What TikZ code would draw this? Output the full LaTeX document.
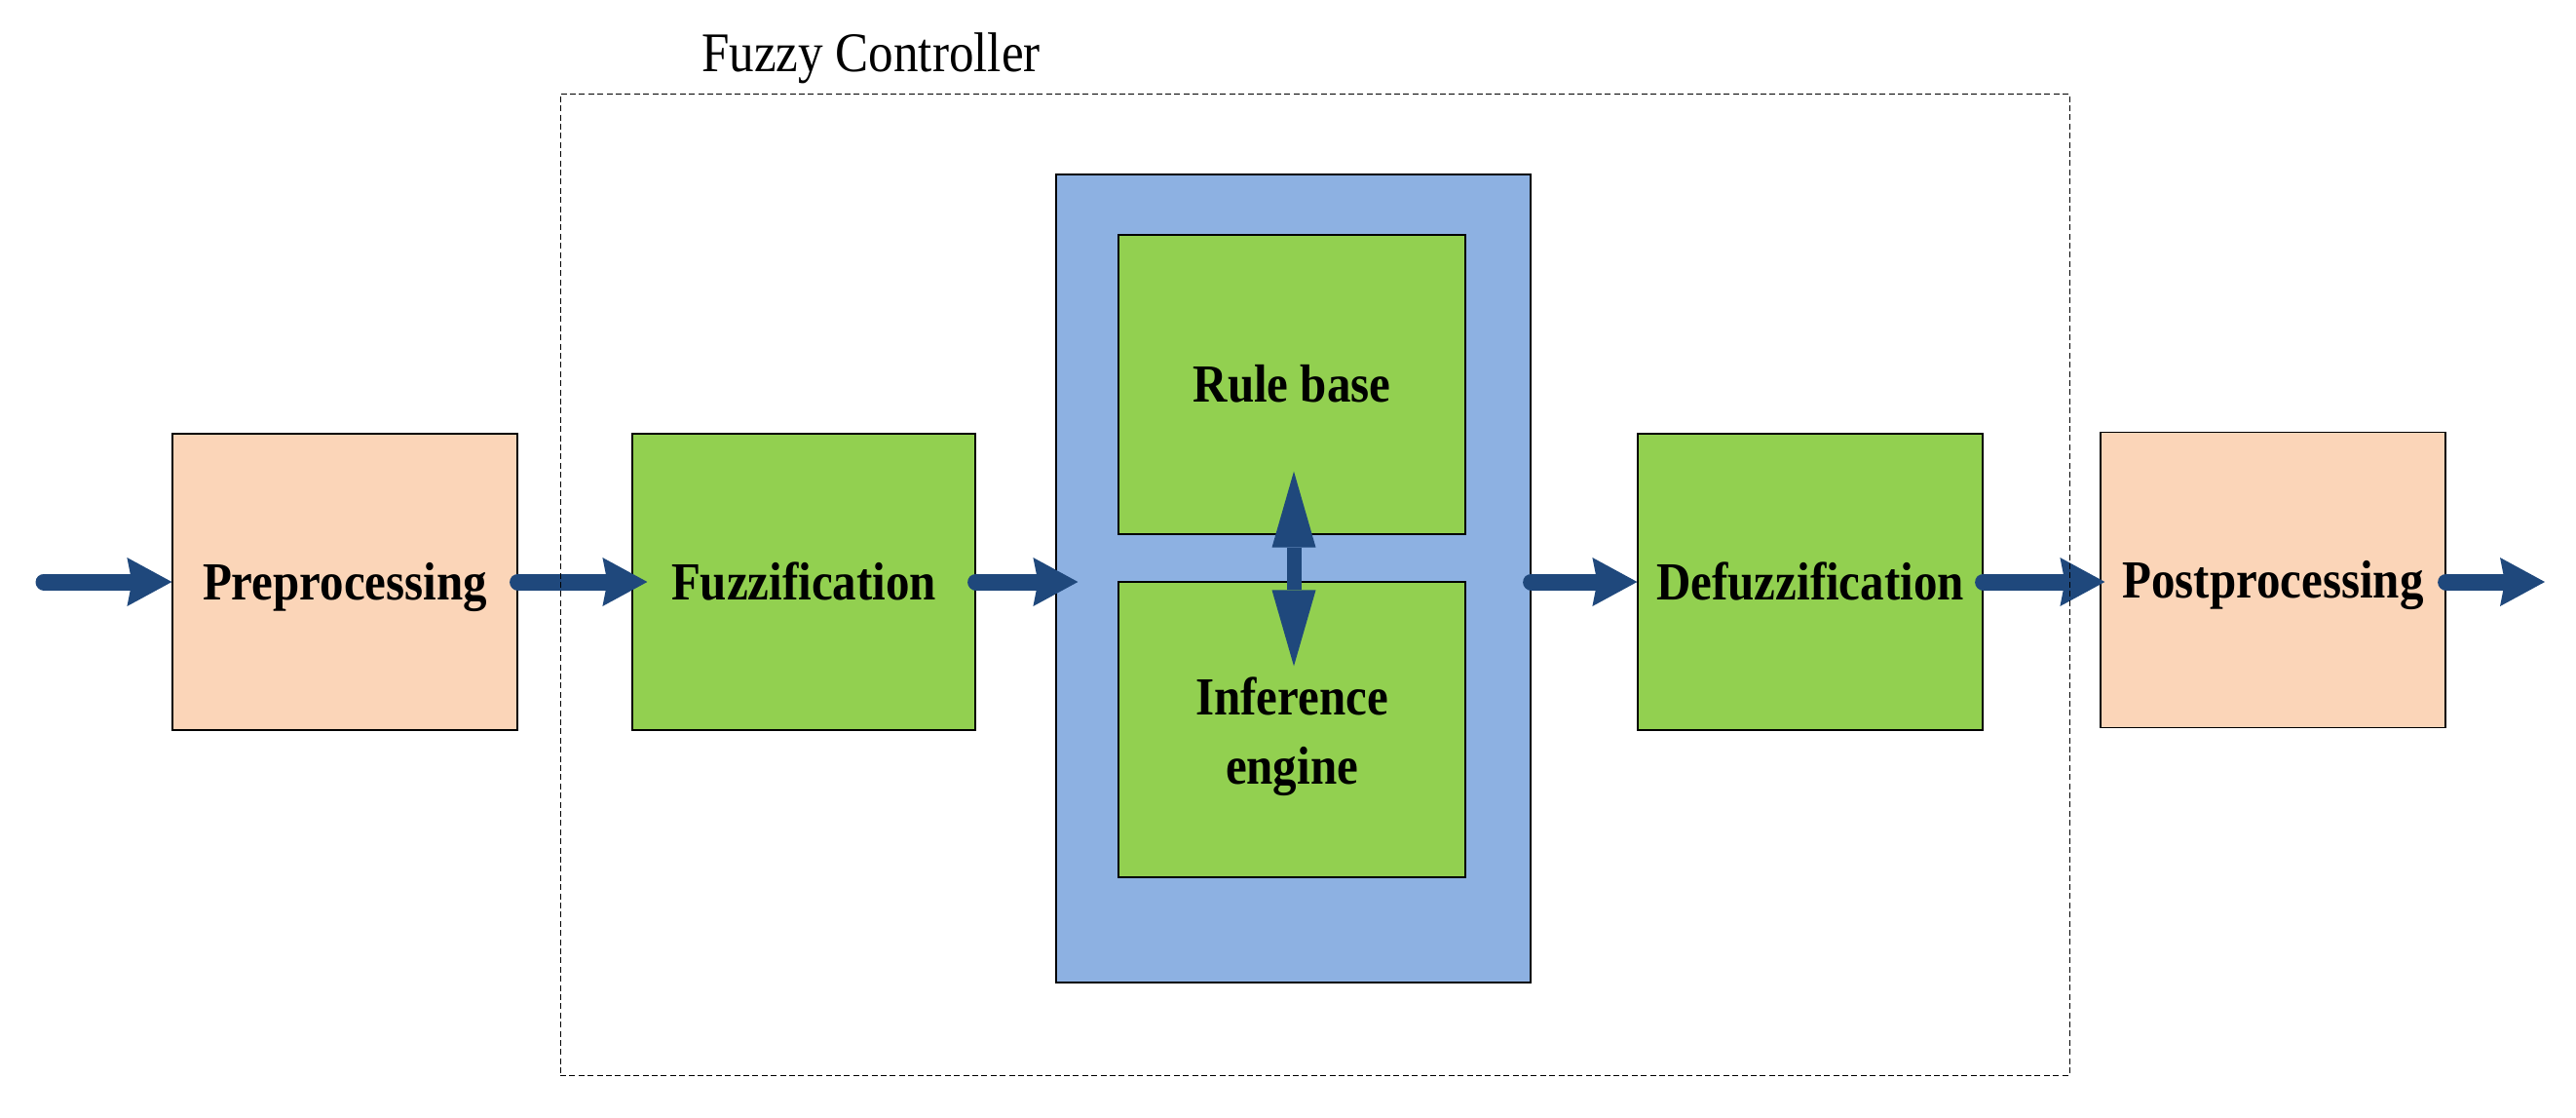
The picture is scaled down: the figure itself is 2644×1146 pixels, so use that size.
\documentclass[tikz,border=0pt]{standalone}
\usepackage{fontspec}
\setmainfont[FakeStretch=0.89]{Liberation Serif}
\usetikzlibrary{arrows.meta,calc}
\definecolor{peach}{HTML}{FBD5B8}
\definecolor{lgreen}{HTML}{92D050}
\definecolor{lblue}{HTML}{8DB1E2}
\definecolor{darrow}{HTML}{1F487C}
\begin{document}
\begin{tikzpicture}[x=0.5pt,y=-0.5pt,
  blk/.style={draw=black, line width=0.6pt, minimum width=177pt, minimum height=152pt,
    inner sep=0pt, font=\bfseries\fontsize{27.5}{35.5}\selectfont, align=center},
  oneline/.style={text height=18pt, text depth=0pt},
  flow/.style={draw=darrow, line width=8.5pt, line cap=round,
    -{Stealth[length=23pt,width=25pt,inset=2.5pt,line width=0pt]}},
  dbl/.style={draw=darrow, line width=7.5pt,
    {Triangle[length=39pt,width=22.5pt,line width=0pt]}-{Triangle[length=39pt,width=22.5pt,line width=0pt]}},
  ctrlbox/.style={draw=black, line width=0.5pt, dash pattern=on 3pt off 1.7pt, inner sep=0pt}
]
\useasboundingbox (0,0) rectangle (2644,1146);

\node[blk, oneline, fill=peach] (pre) at (354,597) {Preprocessing};
\node[blk, oneline, fill=lgreen, minimum width=176pt] (fuzz) at (825,597) {Fuzzification};
\node[draw=black, line width=0.6pt, fill=lblue, inner sep=0pt,
      minimum width=243.5pt, minimum height=414.5pt] (inner) at (1327.5,593.5) {};
\node[blk, oneline, fill=lgreen, minimum width=178pt, minimum height=153.5pt] (rule) at (1326,394.5) {Rule base};
\node[blk, fill=lgreen, minimum width=178pt, minimum height=151.5pt] (inf) at (1326,748.5)
  {\raisebox{0pt}[\dimexpr\height+6pt\relax][\depth]{\begin{tabular}{@{}c@{}}Inference\\engine\end{tabular}}};
\node[blk, oneline, fill=lgreen] (defuzz) at (1858,597) {Defuzzification};
\node[blk, oneline, fill=peach, minimum height=151.5pt] (post) at (2333,595) {Postprocessing};

\coordinate (in) at (45,597);
\coordinate (out) at (2612,597);

\draw[flow] (in) -- (pre.west);
\draw[flow] (pre.east) -- ($(fuzz.west)+(16,0)$);
\draw[flow] (fuzz.east) -- ($(fuzz.east -| inner.west)+(23,0)$);
\draw[flow] (inner.east |- defuzz.west) -- (defuzz.west);
\draw[flow] (defuzz.east) -- ($(post.west |- defuzz.east)+(5,0)$);
\draw[flow] (post.east |- out) -- (out);

\draw[dbl] ($(rule.south)+(2,-65)$) -- ($(inf.north)+(2,87)$);

\node[ctrlbox, minimum width=774.5pt, minimum height=503.5pt] (ctrl) at (1349.5,599.5) {};
\node[font=\fontsize{28.7}{34}\selectfont, anchor=base, inner sep=0pt] (title) at (894,73) {Fuzzy Controller};
\end{tikzpicture}
\end{document}
